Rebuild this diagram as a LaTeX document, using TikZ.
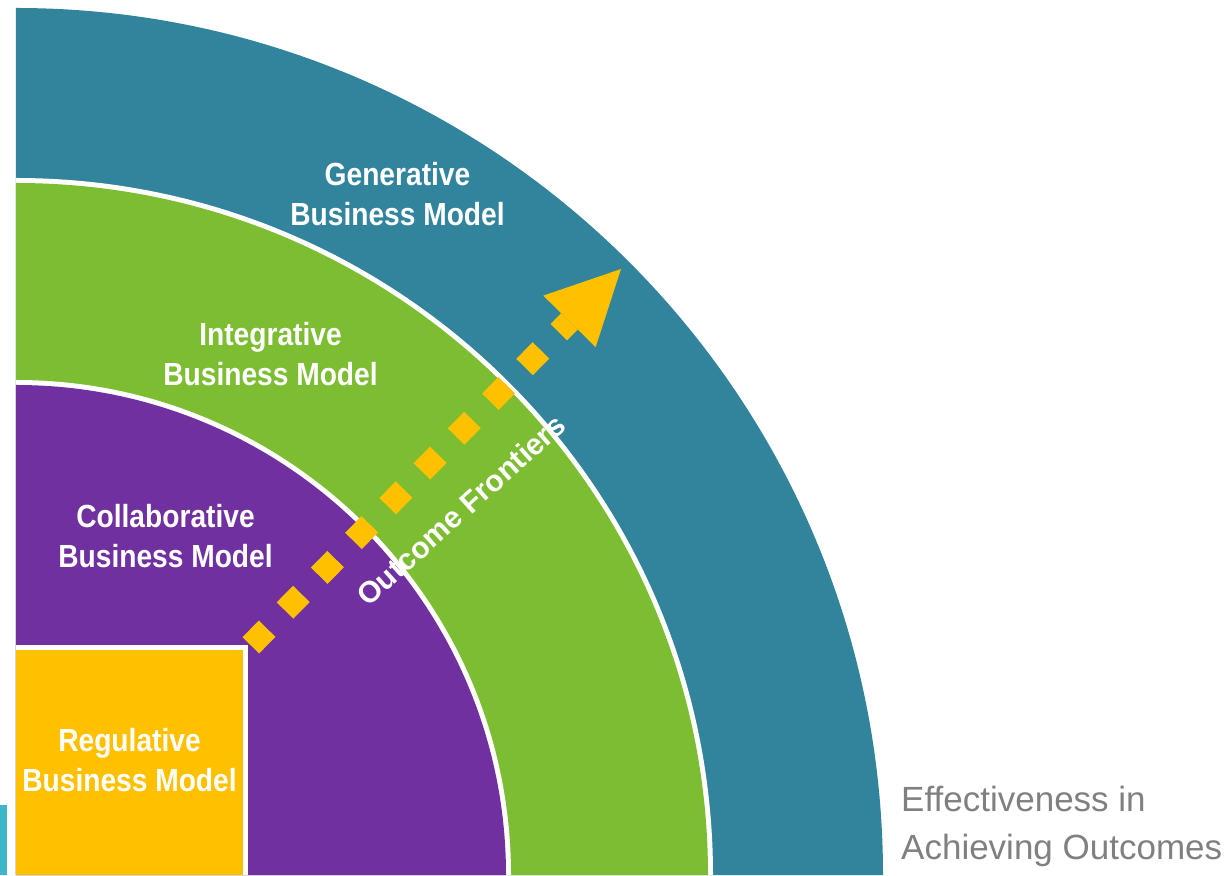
\documentclass[tikz,border=0pt]{standalone}
\usepackage{fontspec}
\usetikzlibrary{arrows.meta}
\newfontfamily\modelfont[FakeStretch=0.88]{Liberation Sans}
\newfontfamily\axisfont{Liberation Sans}
\definecolor{generative}{RGB}{49,132,155}
\definecolor{integrative}{RGB}{124,189,50}
\definecolor{collaborative}{RGB}{112,48,160}
\definecolor{regulative}{RGB}{255,192,0}
\definecolor{axisgray}{RGB}{128,128,128}
\definecolor{edgecyan}{RGB}{62,182,201}
\begin{document}
\begin{tikzpicture}
[
    x=1pt, y=1pt,
    model/.style={text=white, align=center, font=\modelfont\bfseries\fontsize{32}{40}\selectfont},
    frontier/.style={draw=regulative, line width=23.3pt, dash pattern=on 23.3pt off 25.5pt,
        -{Triangle[length=73.5pt,width=73.5pt,line width=0pt]}},
]
\useasboundingbox (-17,0) rectangle (1211,875);
\fill[edgecyan] (-17,0) rectangle (-10,70);
\fill[generative] (-1,0) -- (-1,867) arc[start angle=90,end angle=0,radius=867] -- cycle;
\fill[white] (-1,0) -- (-1,697) arc[start angle=90,end angle=0,radius=697] -- cycle;
\fill[integrative] (-1,0) -- (-1,692) arc[start angle=90,end angle=0,radius=692] -- cycle;
\fill[white] (-1,0) -- (-1,495) arc[start angle=90,end angle=0,radius=495] -- cycle;
\fill[collaborative] (-1,0) -- (-1,490) arc[start angle=90,end angle=0,radius=490] -- cycle;
\fill[white] (-1,0) rectangle (231,230);
\fill[regulative] (-1,0) rectangle (226,225);
\node[model] (generative) at (380.5,681) {Generative\\Business Model};
\node[model] (integrative) at (253.5,521) {Integrative\\Business Model};
\node[model] (collaborative) at (148.5,339) {Collaborative\\Business Model};
\node[model] (regulative) at (112.5,115) {Regulative\\Business Model};
\coordinate (frontier start) at (233.8,229.7);
\coordinate (frontier tip) at (604,606);
\draw[frontier] (frontier start) -- (frontier tip);
\node[text=white, rotate=42, font=\axisfont\bfseries\fontsize{30}{36}\selectfont]
    (frontiers) at (444,365) {Outcome Frontiers};
\node[anchor=south west, inner sep=0pt, align=left, text=axisgray,
    font=\axisfont\fontsize{35}{48}\selectfont] (effectiveness) at (884,8)
    {Effectiveness in\\Achieving Outcomes};
\end{tikzpicture}
\end{document}
